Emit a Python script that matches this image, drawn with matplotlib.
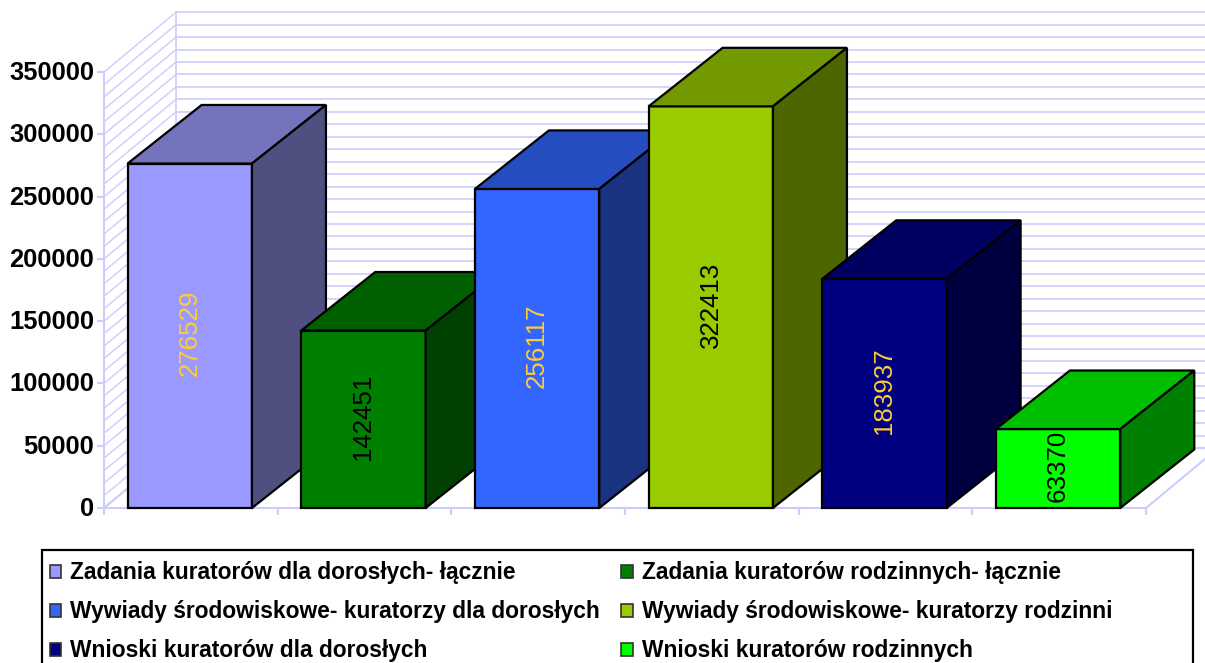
import matplotlib
matplotlib.use('Agg')
import matplotlib.pyplot as plt
from matplotlib.patches import Polygon, Patch, Rectangle
from matplotlib.transforms import ScaledTranslation

plt.rcParams['font.family'] = ['Liberation Sans', 'DejaVu Sans']

# data
labels = [
    'Zadania kuratorów dla dorosłych- łącznie',
    'Zadania kuratorów rodzinnych- łącznie',
    'Wywiady środowiskowe- kuratorzy dla dorosłych',
    'Wywiady środowiskowe- kuratorzy rodzinni',
    'Wnioski kuratorów dla dorosłych',
    'Wnioski kuratorów rodzinnych',
]
values = [276529, 142451, 256117, 322413, 183937, 63370]
front_colors = ['#9999FF', '#008000', '#3366FF', '#99CC00', '#000080', '#00FF00']
top_colors = ['#7474BC', '#006000', '#264DBF', '#739900', '#000060', '#00BF00']
side_colors = ['#4F4F80', '#004000', '#1A3380', '#4D6600', '#000040', '#008000']
label_colors = ['#FFCC33', '#000000', '#FFCC33', '#000000', '#FFCC33', '#000000']

grid_color = '#CCCCFF'
y_max = 350000
n = len(values)

# pseudo 3d offsets, in data units
depth_x = 0.4146
depth_y = 48000
bar_depth_y = 47000
bar_start = 0.136
bar_width = 0.716
bar_depth_x = 0.426

fig = plt.figure(figsize=(12.05, 6.63), dpi=100)
ax = fig.add_axes([104 / 1205, (663 - 508) / 663, 1042 / 1205, 436 / 663])
ax.set_xlim(0, n)
ax.set_ylim(0, y_max)

# back wall and side wall grid
for level in range(0, y_max + 1, 10000):
    ax.plot([depth_x, n + depth_x], [level + depth_y] * 2, color=grid_color, lw=1.2, clip_on=False, zorder=1)
    ax.plot([0, depth_x], [level, level + depth_y], color=grid_color, lw=1.0, clip_on=False, zorder=1)
ax.plot([depth_x, depth_x], [depth_y, y_max + depth_y], color=grid_color, lw=1.2, clip_on=False, zorder=1)

# floor is white so the back wall lines stop there
ax.add_patch(Polygon([(0, 0), (n, 0), (n + depth_x, depth_y), (depth_x, depth_y)], fc='white', ec='none', clip_on=False, zorder=1.5))
ax.plot([0, depth_x], [0, depth_y], color=grid_color, lw=1.5, clip_on=False, zorder=1.6)
ax.plot([n, n + depth_x], [0, depth_y], color=grid_color, lw=1.5, clip_on=False, zorder=1.6)
ax.plot([depth_x, n + depth_x], [depth_y, depth_y], color=grid_color, lw=1.5, clip_on=False, zorder=1.6)

# value labels sit a little above the middle of the bar
label_shift = ScaledTranslation(0, 2.5 / 100, fig.dpi_scale_trans)

# bars, left to right so each one covers the previous
for i, v in enumerate(values):
    x0 = i + bar_start
    x1 = x0 + bar_width
    z = 3 + i
    ax.add_patch(Polygon([(x0, 0), (x1, 0), (x1, v), (x0, v)], fc=front_colors[i], ec='black', lw=1.6, clip_on=False, zorder=z))
    ax.add_patch(Polygon([(x0, v), (x1, v), (x1 + bar_depth_x, v + bar_depth_y), (x0 + bar_depth_x, v + bar_depth_y)],
                         fc=top_colors[i], ec='black', lw=1.6, clip_on=False, zorder=z))
    ax.add_patch(Polygon([(x1, 0), (x1 + bar_depth_x, bar_depth_y), (x1 + bar_depth_x, v + bar_depth_y), (x1, v)],
                         fc=side_colors[i], ec='black', lw=1.6, clip_on=False, zorder=z))
    ax.text(x0 + bar_width / 2, v / 2, str(v), rotation=90, ha='center', va='center', fontsize=18.6,
            color=label_colors[i], zorder=z + 0.5, transform=ax.transData + label_shift)

# axes
for side in ['top', 'right']:
    ax.spines[side].set_visible(False)
for side in ['left', 'bottom']:
    ax.spines[side].set_color(grid_color)
    ax.spines[side].set_linewidth(1.5)
    ax.spines[side].set_zorder(2)
ax.patch.set_visible(False)
ax.set_xticks(range(n + 1))
ax.set_xticklabels([])
ax.set_yticks(range(0, y_max + 1, 50000))
ax.tick_params(axis='both', color=grid_color, width=1.5, length=5)
ax.tick_params(axis='y', pad=2, labelsize=18.4)
tick_shift = ScaledTranslation(0, 1.5 / 100, fig.dpi_scale_trans)
for t in ax.get_yticklabels():
    t.set_fontweight('bold')
    t.set_transform(t.get_transform() + tick_shift)

# legend box runs past the bottom of the picture, so it is drawn apart from the entries
fig.add_artist(Rectangle((42 / 1205, 1 - 680 / 663), (1193 - 42) / 1205, 130 / 663, transform=fig.transFigure,
                         fc='white', ec='black', lw=1.6, zorder=19))

handles = [Patch(fc=c, ec='#333333', lw=1.2) for c in front_colors]
# legend fills columns first, so the order is left column then right column
order = [0, 2, 4, 1, 3, 5]
leg = fig.legend([handles[i] for i in order], [labels[i] for i in order], ncol=2,
                 loc='upper left', bbox_to_anchor=(42 / 1205, 1 - 553.5 / 663), bbox_transform=fig.transFigure,
                 prop={'family': 'Liberation Sans', 'weight': 'bold', 'size': 16.4}, frameon=False,
                 handlelength=0.5, handleheight=0.5, handletextpad=0.4,
                 columnspacing=0.92, labelspacing=0.695, borderpad=0.35, borderaxespad=0)
leg.set_zorder(20)

fig.savefig('out.png', dpi=100)
